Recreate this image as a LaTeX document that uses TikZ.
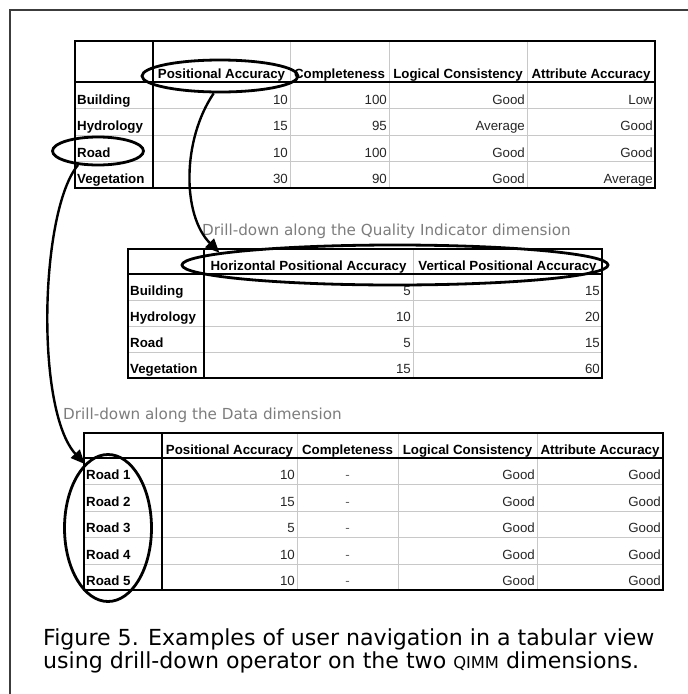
\documentclass[tikz,border=0pt]{standalone}
\usepackage{fontspec}
\usetikzlibrary{shapes.geometric,arrows.meta}
\newfontfamily\tabfont{Liberation Sans}
\newfontfamily\capfont{DejaVu Sans}
\definecolor{gridgray}{RGB}{200,200,200}
\definecolor{notegray}{RGB}{125,125,125}
\definecolor{framegray}{RGB}{60,60,60}
\tikzset{
  tabborder/.style={draw=black, line width=1.6pt},
  tabrule/.style={draw=black, line width=1.3pt},
  gridline/.style={draw=gridgray, line width=1pt},
  hdr/.style={anchor=base, inner sep=0pt, font=\tabfont\fontsize{13.3}{15}\selectfont\bfseries},
  lbl/.style={anchor=base west, inner sep=0pt, font=\tabfont\fontsize{13.3}{15}\selectfont\bfseries},
  val/.style={anchor=base east, inner sep=0pt, text=black!85, font=\tabfont\fontsize{13.3}{15}\selectfont},
  nilval/.style={anchor=base, inner sep=0pt, text=black!60, font=\tabfont\fontsize{13.3}{15}\selectfont},
  ring/.style={ellipse, draw=black, line width=2.8pt, inner sep=0pt},
  jump/.style={draw=black, line width=2.4pt, -{Triangle[length=14pt,width=12pt]}},
  note/.style={anchor=base west, inner sep=0pt, text=notegray, font=\capfont\fontsize{15.2}{18}\selectfont},
  figcap/.style={anchor=base west, inner sep=0pt, font=\capfont\fontsize{22.1}{26}\selectfont},
}
\begin{document}
\begin{tikzpicture}[x=1pt,y=-1pt]
\useasboundingbox (0,0) rectangle (688,694);
\fill[white] (0,0) rectangle (688,694);
% frame around the figure
\draw[framegray, line width=1.5pt] (10,694) -- (10,10) -- (688,10);

% ---------- table 1: quality indicators per theme ----------
\foreach \x in {290,389,527} \draw[gridline] (\x,41) -- (\x,188);
\foreach \y in {108.5,135,161.5} \draw[gridline] (75,\y) -- (655,\y);
\draw[tabrule] (75,82) -- (655,82);
\draw[tabrule] (153,41) -- (153,188);
\draw[tabborder] (75,41) rectangle (655,188);
\node[hdr] (pa-h1) at (221.5,78) {Positional Accuracy};
\node[hdr] (pa-h2) at (339.5,78) {Completeness};
\node[hdr] (pa-h3) at (458,78) {Logical Consistency};
\node[hdr] (pa-h4) at (591,78) {Attribute Accuracy};
\foreach \l/\a/\b/\c/\d [count=\i] in {Building/10/100/Good/Low, Hydrology/15/95/Average/Good, Road/10/100/Good/Good, Vegetation/30/90/Good/Average} {
  \pgfmathsetmacro\yy{82+26.5*\i-4.5}
  \node[lbl] (pa-l\i) at (77,\yy) {\l};
  \node[val] (pa-a\i) at (288,\yy) {\a};
  \node[val] (pa-b\i) at (387,\yy) {\b};
  \node[val] (pa-c\i) at (525,\yy) {\c};
  \node[val] (pa-d\i) at (653,\yy) {\d};
}

% ---------- table 2: positional accuracy split ----------
\node[note] (qnote) at (202,235) {Drill-down along the Quality Indicator dimension};
\draw[gridline] (413,249) -- (413,378);
\foreach \y in {300,326,352} \draw[gridline] (128,\y) -- (602,\y);
\draw[tabrule] (128,274) -- (602,274);
\draw[tabrule] (204,249) -- (204,378);
\draw[tabborder] (128,249) rectangle (602,378);
\node[hdr] (hv-h1) at (308.5,270) {Horizontal Positional Accuracy};
\node[hdr] (hv-h2) at (507.5,270) {Vertical Positional Accuracy};
\foreach \l/\a/\b [count=\i] in {Building/5/15, Hydrology/10/20, Road/5/15, Vegetation/15/60} {
  \pgfmathsetmacro\yy{274+26*\i-4.5}
  \node[lbl] (hv-l\i) at (130,\yy) {\l};
  \node[val] (hv-a\i) at (411,\yy) {\a};
  \node[val] (hv-b\i) at (600,\yy) {\b};
}

% ---------- table 3: roads split ----------
\node[note] (dnote) at (63,419) {Drill-down along the Data dimension};
\foreach \x in {297,398,537} \draw[gridline] (\x,433) -- (\x,590);
\foreach \y in {484.5,511,537.5,564} \draw[gridline] (84,\y) -- (663,\y);
\draw[tabrule] (84,458) -- (663,458);
\draw[tabrule] (162,433) -- (162,590);
\draw[tabborder] (84,433) rectangle (663,590);
\node[hdr] (rd-h1) at (229.5,454) {Positional Accuracy};
\node[hdr] (rd-h2) at (347.5,454) {Completeness};
\node[hdr] (rd-h3) at (467.5,454) {Logical Consistency};
\node[hdr] (rd-h4) at (600,454) {Attribute Accuracy};
\foreach \l/\a [count=\i] in {Road 1/10, Road 2/15, Road 3/5, Road 4/10, Road 5/10} {
  \pgfmathsetmacro\yy{458+26.4*\i-4.5}
  \node[lbl] (rd-l\i) at (86,\yy) {\l};
  \node[val] (rd-a\i) at (295,\yy) {\a};
  \node[nilval] (rd-b\i) at (347.5,\yy) {-};
  \node[val] (rd-c\i) at (535,\yy) {Good};
  \node[val] (rd-d\i) at (661,\yy) {Good};
}

% ---------- highlighting rings and drill-down arrows ----------
\node[ring, minimum width=156pt, minimum height=32pt] (eA) at (220,76) {};
\node[ring, minimum width=91pt, minimum height=28pt] (eB) at (98,151) {};
\node[ring, minimum width=426pt, minimum height=40pt] (eC) at (395,265) {};
\node[ring, minimum width=87pt, minimum height=147pt] (eD) at (108,528) {};
\draw[jump] (eA.250) .. controls (182,140) and (182,215) .. (eC.176.5);
\draw[jump] (eB.215) .. controls (40,210) and (35,410) .. (eD.110);

% ---------- figure caption ----------
\node[figcap] (cap1) at (43,645) {Figure 5. Examples of user navigation in a tabular view};
\node[figcap] (cap2) at (43,668) {using drill-down operator on the two {\fontsize{16.3}{18}\selectfont QIMM} dimensions.};
\end{tikzpicture}
\end{document}
